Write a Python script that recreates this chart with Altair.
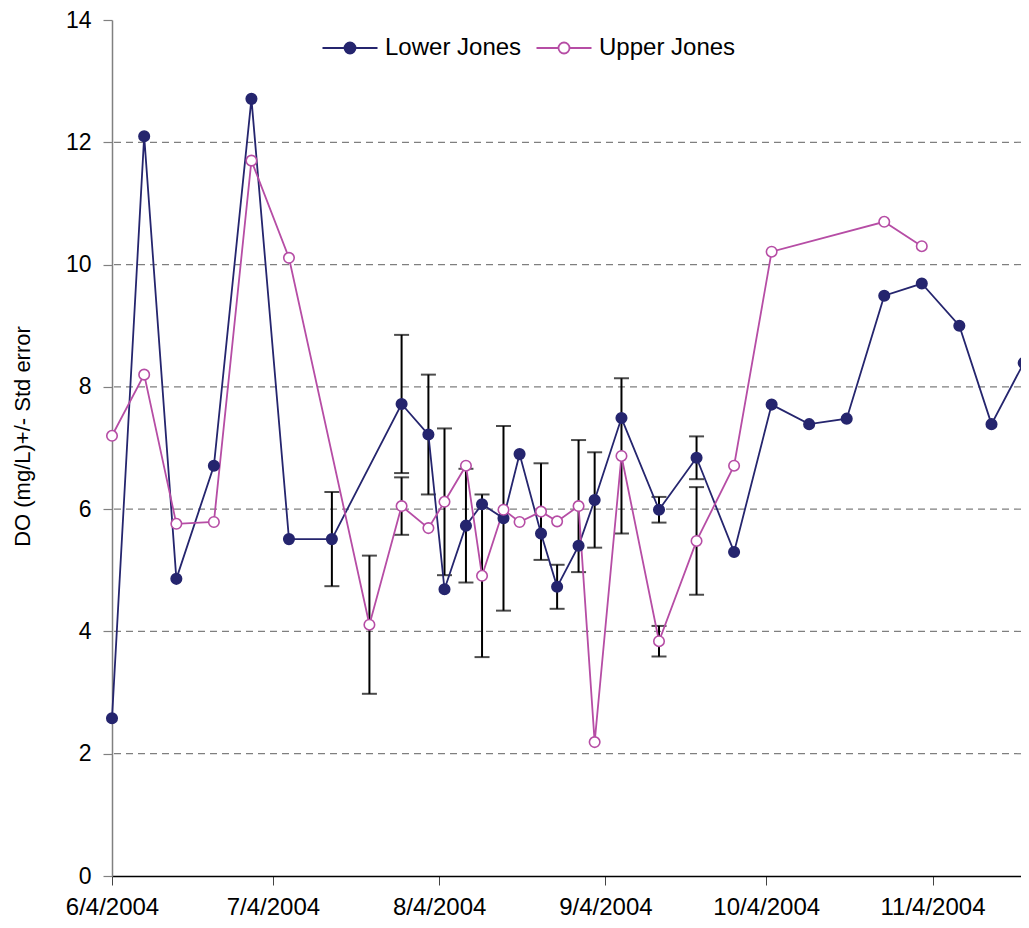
import altair as alt
import pandas as pd

# ---------------- data ----------------
series_names = ["Lower Jones", "Upper Jones"]

lower_dates = ["2004-06-04", "2004-06-10", "2004-06-16", "2004-06-23", "2004-06-30",
               "2004-07-07", "2004-07-15", "2004-07-28", "2004-08-02", "2004-08-05",
               "2004-08-09", "2004-08-12", "2004-08-16", "2004-08-19", "2004-08-23",
               "2004-08-26", "2004-08-30", "2004-09-02", "2004-09-07", "2004-09-14",
               "2004-09-21", "2004-09-28", "2004-10-05", "2004-10-12", "2004-10-19",
               "2004-10-26", "2004-11-02", "2004-11-09", "2004-11-15", "2004-11-21"]
lower_do = [2.58, 12.10, 4.86, 6.71, 12.71,
            5.51, 5.51, 7.72, 7.22, 4.69,
            5.73, 6.08, 5.85, 6.90, 5.60,
            4.73, 5.40, 6.15, 7.49, 5.99,
            6.84, 5.30, 7.71, 7.39, 7.48,
            9.49, 9.69, 9.00, 7.39, 8.39]
lower_err = [None, None, None, None, None,
             None, 0.77, 1.13, 0.98, None,
             0.93, None, 1.51, None, None,
             0.36, None, 0.78, None, 0.21,
             0.35, None, None, None, None,
             None, None, None, None, None]

upper_dates = ["2004-06-04", "2004-06-10", "2004-06-16", "2004-06-23", "2004-06-30",
               "2004-07-07", "2004-07-22", "2004-07-28", "2004-08-02", "2004-08-05",
               "2004-08-09", "2004-08-12", "2004-08-16", "2004-08-19", "2004-08-23",
               "2004-08-26", "2004-08-30", "2004-09-02", "2004-09-07", "2004-09-14",
               "2004-09-21", "2004-09-28", "2004-10-05", "2004-10-26", "2004-11-02"]
upper_do = [7.20, 8.20, 5.76, 5.79, 11.70,
            10.11, 4.11, 6.05, 5.69, 6.12,
            6.71, 4.91, 5.99, 5.79, 5.96,
            5.80, 6.05, 2.19, 6.87, 3.84,
            5.48, 6.71, 10.21, 10.70, 10.30]
upper_err = [None, None, None, None, None,
             None, 1.13, 0.47, None, 1.20,
             None, 1.33, None, None, 0.79,
             None, 1.08, None, 1.27, 0.25,
             0.88, None, None, None, None]

x_tick_months = [6, 7, 8, 9, 10, 11]
y_ticks = [0, 2, 4, 6, 8, 10, 12, 14]
grid_values = [2, 4, 6, 8, 10, 12]

NAVY = "#25256E"
MAGENTA = "#B64DA5"
FONT = "Liberation Sans"

# ---------------- tables ----------------
rows = []
for name, dates, vals, errs in [(series_names[0], lower_dates, lower_do, lower_err),
                                (series_names[1], upper_dates, upper_do, upper_err)]:
    for d, v, e in zip(dates, vals, errs):
        rows.append({"series": name, "date": d + "T00:00:00", "do": v,
                     "lo": (v - e) if e is not None else None,
                     "hi": (v + e) if e is not None else None})
df = pd.DataFrame(rows)
err_df = df.dropna(subset=["lo"]).copy()
grid_df = pd.DataFrame({"g": grid_values})

x_scale = alt.Scale(domain=[alt.DateTime(year=2004, month=6, date=4),
                            alt.DateTime(year=2004, month=11, date=20, hours=12)])
y_scale = alt.Scale(domain=[0, 14])

stroke_scale = alt.Scale(domain=series_names, range=[NAVY, MAGENTA])
fill_scale = alt.Scale(domain=series_names, range=[NAVY, "#FFFFFF"])

LEG_PATH = "M-5,0H-1M1,0H5M1,0A1,1,0,1,1,-1,0A1,1,0,1,1,1,0Z"
legend = alt.Legend(title=None, orient="none", legendX=226, legendY=16,
                    direction="horizontal", symbolType=LEG_PATH, symbolSize=121,
                    symbolStrokeWidth=1.8, labelFontSize=24, labelFont=FONT,
                    labelColor="black", labelOffset=23, columnPadding=10)

TITLE = "DO (mg/L)+/- Std error"
x_axis = alt.Axis(values=[alt.DateTime(year=2004, month=m, date=4) for m in x_tick_months],
                  format="%-m/%-d/%Y", title=None, grid=False,
                  labelFontSize=24, labelFont=FONT, labelColor="black",
                  labelPadding=10, tickSize=9, tickColor="#444444", tickWidth=1,
                  domainColor="black", domainWidth=1.5, labelOverlap=False,
                  labelFlush=False)
y_axis = alt.Axis(values=y_ticks, grid=False, title=TITLE,
                  titleFontSize=22, titleFont=FONT, titleFontWeight="normal",
                  titleColor="black", titlePadding=31, titleY=416,
                  labelFontSize=23, labelFont=FONT, labelColor="black",
                  labelPadding=12, tickSize=9, tickColor="#808080", tickWidth=1.2,
                  domainColor="#808080", domainWidth=1.5)

X = alt.X("date:T", scale=x_scale, axis=x_axis, title=None)

grid = alt.Chart(grid_df).mark_rule(color="#7F7F7F", strokeWidth=1.2,
                                    strokeDash=[7, 5]).encode(
    y=alt.Y("g:Q", scale=y_scale, axis=y_axis, title=TITLE))

bars = alt.Chart(err_df).mark_rule(color="black", strokeWidth=2).encode(
    x=X,
    y=alt.Y("lo:Q", scale=y_scale, axis=y_axis, title=TITLE),
    y2="hi:Q")
cap_lo = alt.Chart(err_df).mark_tick(color="black", thickness=2, size=15,
                                     orient="horizontal").encode(
    x=X, y=alt.Y("lo:Q", scale=y_scale, axis=y_axis, title=TITLE))
cap_hi = alt.Chart(err_df).mark_tick(color="black", thickness=2, size=15,
                                     orient="horizontal").encode(
    x=X, y=alt.Y("hi:Q", scale=y_scale, axis=y_axis, title=TITLE))

lines = alt.Chart(df).mark_line(strokeWidth=1.8).encode(
    x=X,
    y=alt.Y("do:Q", scale=y_scale, axis=y_axis, title=TITLE),
    stroke=alt.Stroke("series:N", scale=stroke_scale, legend=legend),
    detail="series:N")

points = alt.Chart(df).mark_point(size=110, strokeWidth=1.6, opacity=1,
                                  fillOpacity=1).encode(
    x=X,
    y=alt.Y("do:Q", scale=y_scale, axis=y_axis, title=TITLE),
    stroke=alt.Stroke("series:N", scale=stroke_scale, legend=legend),
    fill=alt.Fill("series:N", scale=fill_scale, legend=legend))

chart = alt.layer(grid, bars, cap_lo, cap_hi, lines, points).properties(
    width=909, height=856,
    autosize=alt.AutoSizeParams(type="none"),
    padding={"left": 104, "top": 12, "right": 0, "bottom": 44},
).configure(font=FONT).configure_view(stroke=None)

chart.save("out.html", embed_options={"renderer": "svg", "actions": False})
